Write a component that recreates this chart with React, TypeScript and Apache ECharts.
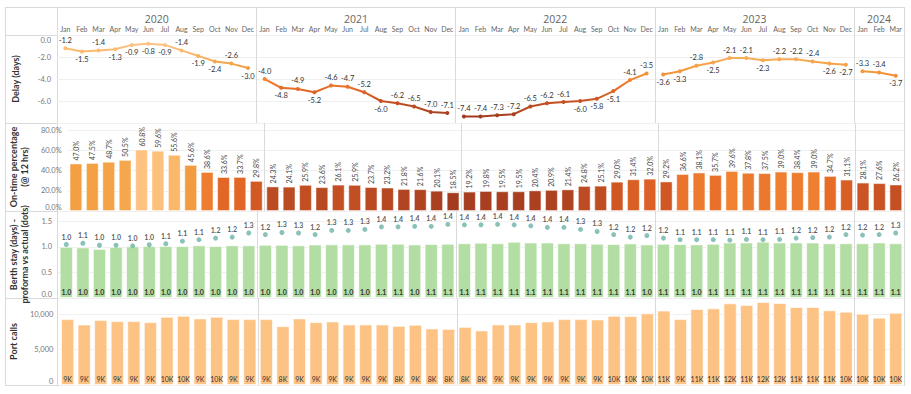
import React, { useEffect, useRef } from 'react';
import * as echarts from 'echarts';

const MONTHS = ['Jan', 'Feb', 'Mar', 'Apr', 'May', 'Jun', 'Jul', 'Aug', 'Sep', 'Oct', 'Nov', 'Dec'];
const YEARS = ['2020', '2021', '2022', '2023', '2024'];
const YEAR_MONTH_COUNT = [12, 12, 12, 12, 3];

const DELAY_DAYS = [
  -1.2, -1.5, -1.4, -1.3, -0.9, -0.8, -0.9, -1.4, -1.9, -2.4, -2.6, -3.0,
  -4.0, -4.8, -4.9, -5.2, -4.6, -4.7, -5.2, -6.0, -6.2, -6.5, -7.0, -7.1,
  -7.4, -7.4, -7.3, -7.2, -6.5, -6.2, -6.1, -6.0, -5.8, -5.1, -4.1, -3.5,
  -3.6, -3.3, -2.8, -2.5, -2.1, -2.1, -2.3, -2.2, -2.2, -2.4, -2.6, -2.7,
  -3.3, -3.4, -3.7,
];

const ONTIME_PCT = [
  47.0, 47.5, 48.7, 50.5, 60.8, 59.6, 55.6, 45.6, 38.6, 33.6, 33.7, 29.8,
  24.3, 24.1, 25.9, 23.6, 26.1, 25.9, 23.7, 23.2, 21.8, 21.6, 20.1, 18.5,
  19.2, 19.8, 19.5, 19.5, 20.4, 20.9, 21.4, 24.8, 25.1, 29.0, 31.4, 32.0,
  29.2, 36.6, 38.1, 35.7, 39.6, 37.8, 37.5, 39.0, 38.4, 39.0, 34.7, 31.1,
  28.1, 27.6, 26.2,
];

const BERTH_PROFORMA = [
  1.0, 0.99, 0.96, 1.0, 1.01, 1.015, 1.015, 1.015, 1.03, 1.015, 1.03, 1.03,
  1.04, 1.04, 1.03, 1.045, 1.049, 1.048, 1.048, 1.06, 1.06, 1.047, 1.055, 1.06,
  1.07, 1.08, 1.07, 1.1, 1.085, 1.085, 1.07, 1.07, 1.06, 1.054, 1.067, 1.047,
  1.06, 1.054, 1.048, 1.06, 1.085, 1.085, 1.1, 1.085, 1.085, 1.085, 1.07, 1.07,
  1.07, 1.085, 1.07,
];

const BERTH_ACTUAL = [
  1.045, 1.07, 1.03, 1.03, 1.02, 1.04, 1.06, 1.11, 1.14, 1.17, 1.19, 1.27,
  1.24, 1.28, 1.27, 1.24, 1.32, 1.32, 1.34, 1.39, 1.39, 1.4, 1.4, 1.44,
  1.43, 1.43, 1.44, 1.43, 1.41, 1.38, 1.38, 1.34, 1.3, 1.24, 1.19, 1.22,
  1.17, 1.14, 1.14, 1.14, 1.13, 1.145, 1.14, 1.145, 1.17, 1.18, 1.19, 1.24,
  1.23, 1.24, 1.27,
];

const PORT_CALLS = [
  9317, 8550, 9175, 9033, 9033, 8890, 9644, 9787, 9417, 9644, 9317, 9317,
  9317, 8321, 9417, 8890, 8990, 8560, 8563, 8563, 8364, 8520, 7994, 7937,
  8222, 7710, 8563, 8563, 8890, 8990, 9317, 9317, 9275, 9787, 9744, 10128,
  10520, 9317, 10740, 10839, 11550, 11309, 11735, 11593, 11024, 11024, 10555, 10356,
  10071, 9520, 10213,
];

// label placement (style) for the delay line labels: T = above, B = below
const DELAY_LABEL_SIDE =
  'TBTBBBBTBBTB' + 'TBTBTTTBTTTT' + 'TTTTTTTBBBTT' + 'BBTBTTBTTTBB' + 'TTB';

const PALETTE = ['#a33c1f', '#b94a22', '#d05624', '#e56a27', '#f08232', '#f39a3d', '#f5a64c', '#fbb76a', '#fec383'];

const PERIODS: string[] = [];
const YEAR_OF: number[] = [];
YEARS.forEach((y, yi) => {
  for (let m = 0; m < YEAR_MONTH_COUNT[yi]; m++) {
    PERIODS.push(MONTHS[m] + ' ' + y);
    YEAR_OF.push(yi);
  }
});
const YEAR_CENTERS: number[] = [];
{
  let start = 0;
  YEAR_MONTH_COUNT.forEach((n) => {
    YEAR_CENTERS.push(start + (n - 1) / 2);
    start += n;
  });
}
const isYearStart = (i: number) => i > 0 && YEAR_OF[i] !== YEAR_OF[i - 1];

const FONT = 'Lato, "Noto Sans", sans-serif';
const FRAME = '#dadada';
const GRID_L = 57;
const GRID_R = 7;
const PANELS = [
  { top: 7, h: 28 },
  { top: 35, h: 88 },
  { top: 123, h: 88 },
  { top: 211, h: 87 },
  { top: 298, h: 87 },
];

export default function App() {
  const ref = useRef<HTMLDivElement>(null);
  useEffect(() => {
    if (!ref.current) return;
    const chart = echarts.init(ref.current, undefined, { renderer: 'svg' });

    const grids = PANELS.map((p) => ({ left: GRID_L, right: GRID_R, top: p.top, height: p.h, containLabel: false }));

    const catAxis = (gridIndex: number, extra: any = {}) => ({
      type: 'category',
      gridIndex,
      data: PERIODS,
      axisLine: { show: false },
      axisTick: { show: false },
      axisLabel: { show: false },
      splitLine: { show: true, interval: (i: number) => isYearStart(i), lineStyle: { color: FRAME, width: 1 } },
      ...extra,
    });

    const xAxis: any[] = [
      catAxis(0),
      {
        type: 'value',
        gridIndex: 0,
        min: -0.5,
        max: PERIODS.length - 0.5,
        position: 'top',
        axisLine: { show: false },
        axisTick: { show: false },
        splitLine: { show: false },
        axisLabel: {
          inside: true,
          margin: 6,
          customValues: YEAR_CENTERS,
          fontSize: 10.5,
          fontWeight: 'normal',
          color: '#666',
          fontFamily: '"Open Sans", "Noto Sans", sans-serif',
          formatter: (v: number) => {
            const k = YEAR_CENTERS.findIndex((c) => Math.abs(c - v) < 0.01);
            return k >= 0 ? YEARS[k] : '';
          },
        },
      },
      catAxis(1, {
        position: 'top',
        axisLabel: {
          show: true,
          interval: 0,
          margin: 3,
          fontSize: 7,
          color: '#666',
          fontFamily: FONT,
          formatter: (v: string) => v.slice(0, 3),
        },
      }),
      catAxis(2),
      catAxis(3),
      catAxis(4),
    ];

    const yBase = (gridIndex: number, name: string, nameGap: number, extra: any) => ({
      type: 'value',
      gridIndex,
      name,
      nameLocation: 'middle',
      nameGap,
      nameRotate: 90,
      nameTextStyle: { fontSize: 9, fontWeight: 'bold', color: '#333', fontFamily: FONT, lineHeight: 11 },
      axisLine: { show: false },
      axisTick: { show: false },
      splitLine: { show: true, lineStyle: { color: '#f0f0f0', width: 1 } },
      ...extra,
      axisLabel: {
        fontSize: 7.5,
        color: '#777',
        fontFamily: FONT,
        margin: 6,
        rich: {
          t: { fontSize: 7.5, color: '#777', fontFamily: FONT, padding: [10, 0, 0, 0] },
          b: { fontSize: 7.5, color: '#777', fontFamily: FONT, padding: [0, 0, 8, 0] },
        },
        ...(extra.axisLabel || {}),
      },
    });

    const yAxis: any[] = [
      { type: 'value', gridIndex: 0, show: false, min: 0, max: 1 },
      yBase(1, 'Delay (days)', 36, {
        min: -8,
        max: 0,
        interval: 2,
        axisLabel: {
          showMinLabel: false,
          formatter: (v: number) => (v === 0 ? '{t|0.0}' : v.toFixed(1)),
        },
      }),
      yBase(2, 'On-time percentage\n(@ 12 hrs)', 26, {
        min: 0,
        max: 87,
        interval: 20,
        axisLabel: {
          showMaxLabel: false,
          formatter: (v: number) => (v === 0 ? '{b|0.0%}' : v.toFixed(1) + '%'),
        },
      }),
      yBase(3, 'Berth stay (days) -\nproforma vs actual (dots)', 28, {
        min: 0,
        max: 1.7,
        interval: 0.5,
        axisLabel: {
          showMaxLabel: false,
          formatter: (v: number) => (v === 0 ? '{b|0.0}' : v.toFixed(1)),
        },
      }),
      yBase(4, 'Port calls', 36, {
        min: 0,
        max: 12300,
        interval: 5000,
        axisLabel: {
          showMaxLabel: false,
          formatter: (v: number) => (v === 0 ? '{b|0}' : v.toLocaleString('en-US')),
        },
      }),
    ];

    const labelText = { fontSize: 7.5, color: '#333', fontFamily: FONT };

    const delaySeries = YEARS.map((_, yi) => ({
      type: 'line',
      xAxisIndex: 2,
      yAxisIndex: 1,
      symbol: 'circle',
      symbolSize: 4,
      showSymbol: true,
      connectNulls: false,
      lineStyle: { width: 2 },
      data: DELAY_DAYS.map((v, i) =>
        YEAR_OF[i] === yi
          ? { value: v, label: { position: DELAY_LABEL_SIDE[i] === 'T' ? 'top' : 'bottom' } }
          : '-'
      ),
      label: {
        show: true,
        distance: 2,
        ...labelText,
        formatter: (p: any) => Number(p.value).toFixed(1),
      },
    }));

    const series: any[] = [
      ...delaySeries,
      {
        type: 'bar',
        xAxisIndex: 3,
        yAxisIndex: 2,
        barCategoryGap: '22%',
        data: ONTIME_PCT,
        itemStyle: { borderColor: 'rgba(255,255,255,0.45)', borderWidth: 1 },
        label: {
          show: true,
          position: 'top',
          rotate: 90,
          align: 'left',
          verticalAlign: 'middle',
          distance: 3,
          fontSize: 7,
          color: '#444',
          fontFamily: FONT,
          formatter: (p: any) => Number(p.value).toFixed(1) + '%',
        },
      },
      {
        type: 'bar',
        xAxisIndex: 4,
        yAxisIndex: 3,
        barCategoryGap: '20%',
        data: BERTH_PROFORMA,
        itemStyle: { color: '#b3dea3', borderColor: 'rgba(255,255,255,0.6)', borderWidth: 1 },
        label: {
          show: true,
          position: 'insideBottom',
          distance: 3,
          fontSize: 7,
          fontWeight: 'bold',
          color: '#333',
          fontFamily: FONT,
          formatter: (p: any) => Number(p.value).toFixed(1),
        },
      },
      {
        type: 'scatter',
        xAxisIndex: 4,
        yAxisIndex: 3,
        symbol: 'circle',
        symbolSize: 5,
        data: BERTH_ACTUAL,
        itemStyle: { color: '#6cb3a7' },
        label: {
          show: true,
          position: 'top',
          distance: 2,
          fontSize: 7,
          fontWeight: 'bold',
          color: '#333',
          fontFamily: FONT,
          formatter: (p: any) => Number(Array.isArray(p.value) ? p.value[1] : p.value).toFixed(1),
        },
      },
      {
        type: 'bar',
        xAxisIndex: 5,
        yAxisIndex: 4,
        barCategoryGap: '20%',
        data: PORT_CALLS,
        itemStyle: { color: '#fdc384', borderColor: 'rgba(255,255,255,0.6)', borderWidth: 1 },
        label: {
          show: true,
          position: 'insideBottom',
          distance: 3,
          fontSize: 7,
          color: '#333',
          fontFamily: FONT,
          formatter: (p: any) => Math.round(Number(p.value) / 1000) + 'K',
        },
      },
    ];

    const left = 5;
    const right = 905;
    const hLines = [7, 35, 123, 211, 298, 385];
    const graphic: any[] = [
      ...hLines.map((y) => ({
        type: 'line',
        silent: true,
        shape: { x1: left, y1: y + 0.5, x2: right, y2: y + 0.5 },
        style: { stroke: FRAME, lineWidth: 1 },
      })),
      ...[left + 0.5, GRID_L + 0.5, right - 0.5].map((x) => ({
        type: 'line',
        silent: true,
        shape: { x1: x, y1: 7, x2: x, y2: 385.5 },
        style: { stroke: FRAME, lineWidth: 1 },
      })),
    ];

    chart.setOption({
      animation: false,
      backgroundColor: '#ffffff',
      textStyle: { fontFamily: FONT },
      grid: grids,
      xAxis,
      yAxis,
      visualMap: [
        {
          type: 'continuous',
          show: false,
          seriesIndex: [0, 1, 2, 3, 4],
          dimension: 1,
          min: -7.4,
          max: -0.8,
          inRange: { color: PALETTE },
        },
        {
          type: 'continuous',
          show: false,
          seriesIndex: 5,
          min: 18.5,
          max: 60.8,
          inRange: { color: PALETTE },
        },
      ],
      graphic,
      series,
    });

    return () => chart.dispose();
  }, []);

  return (
    <div
      ref={ref}
      style={{ position: 'fixed', left: 0, top: 0, width: 911, height: 394, background: '#fff' }}
    />
  );
}
